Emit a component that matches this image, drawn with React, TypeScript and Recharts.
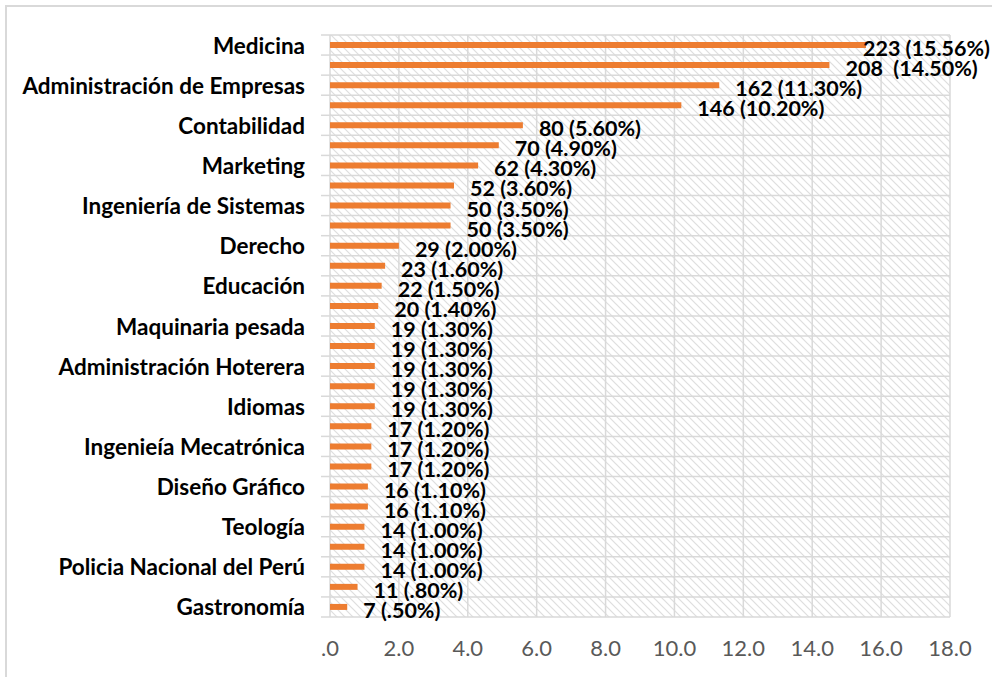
import React from 'react';
import { BarChart, Bar, XAxis, YAxis, CartesianGrid, LabelList } from 'recharts';

// porcentaje por carrera (orden del gráfico, de mayor a menor)
const porcentajes = [
  15.56, 14.5, 11.3, 10.2, 5.6, 4.9, 4.3, 3.6, 3.5, 3.5, 2.0, 1.6, 1.5, 1.4,
  1.3, 1.3, 1.3, 1.3, 1.3, 1.2, 1.2, 1.2, 1.1, 1.1, 1.0, 1.0, 1.0, 0.8, 0.5,
];

const etiquetas = [
  '223 (15.56%)', '208  (14.50%)', '162 (11.30%)', '146 (10.20%)', '80 (5.60%)',
  '70 (4.90%)', '62 (4.30%)', '52 (3.60%)', '50 (3.50%)', '50 (3.50%)',
  '29 (2.00%)', '23 (1.60%)', '22 (1.50%)', '20 (1.40%)', '19 (1.30%)',
  '19 (1.30%)', '19 (1.30%)', '19 (1.30%)', '19 (1.30%)', '17 (1.20%)',
  '17 (1.20%)', '17 (1.20%)', '16 (1.10%)', '16 (1.10%)', '14 (1.00%)',
  '14 (1.00%)', '14 (1.00%)', '11 (.80%)', '7 (.50%)',
];

// solo se muestra una de cada dos categorías en el eje
const carreras = [
  'Medicina', 'Administración de Empresas', 'Contabilidad', 'Marketing',
  'Ingeniería de Sistemas', 'Derecho', 'Educación', 'Maquinaria pesada',
  'Administración Hoterera', 'Idiomas', 'Ingenieía Mecatrónica', 'Diseño Gráfico',
  'Teología', 'Policia Nacional del Perú', 'Gastronomía',
];

const xTicks = [0, 2, 4, 6, 8, 10, 12, 14, 16, 18];

const W = 992;
const H = 677;
const margin = { top: 35, right: 42, bottom: 0, left: 0 };
const Y_AXIS_W = 330;
const X_AXIS_H = 60;
const FONT = 'Lato, "Open Sans", sans-serif';

const data = porcentajes.map((pct, i) => ({ id: i, pct }));
const band = (H - margin.top - margin.bottom - X_AXIS_H) / data.length;
const rowLines = Array.from({ length: data.length + 1 }, (_, k) => margin.top + k * band);

function YTick(props: any) {
  const { y, payload } = props;
  const i = payload.value as number;
  const top = y - band / 2;
  const x = Y_AXIS_W;
  return (
    <g>
      <line x1={x - 9} x2={x} y1={top} y2={top} stroke="#d9d9d9" strokeWidth={1.5} />
      {i === data.length - 1 && (
        <line x1={x - 9} x2={x} y1={top + band} y2={top + band} stroke="#d9d9d9" strokeWidth={1.5} />
      )}
      {i % 2 === 0 && (
        <text
          x={x - 25}
          y={y}
          textAnchor="end"
          dominantBaseline="central"
          fill="#000"
          fontFamily={FONT}
          fontWeight="bold"
          fontSize={22.5}
        >
          {carreras[i / 2]}
        </text>
      )}
    </g>
  );
}

function ValueLabel(props: any) {
  const { x, y, width, height, index } = props;
  const txt = etiquetas[index];
  const start = x + width + 16;
  const overflow = start + txt.length * 10 > 990;
  return (
    <text
      x={overflow ? 990 : start}
      y={y + height / 2 + 3}
      textAnchor={overflow ? 'end' : 'start'}
      dominantBaseline="central"
      fill="#000"
      fontFamily={FONT}
      fontWeight="bold"
      fontSize={21.5}
      style={{ whiteSpace: 'pre' }}
    >
      {txt}
    </text>
  );
}

export default function App() {
  return (
    <div style={{ position: 'fixed', left: 0, top: 0, width: W, height: H, overflow: 'hidden', background: '#fff' }}>
      <div
        style={{
          position: 'absolute',
          left: 5,
          top: 5,
          width: 1100,
          height: 800,
          border: '2px solid #d9d9d9',
        }}
      />
      <div style={{ position: 'absolute', left: 0, top: 0 }}>
        <BarChart width={W} height={H} data={data} layout="vertical" margin={margin} barSize={6}>
          <defs>
            <pattern id="hatch" width="8" height="8" patternUnits="userSpaceOnUse">
              <rect width="8" height="8" fill="#fff" />
              <path d="M0,0 L8,8 M-2,6 L2,10 M6,-2 L10,2" stroke="#dedede" strokeWidth={1.2} />
            </pattern>
          </defs>
          <CartesianGrid
            fill="url(#hatch)"
            stroke="#d9d9d9"
            strokeWidth={1.5}
            horizontalCoordinatesGenerator={() => rowLines}
          />
          <XAxis
            type="number"
            domain={[0, 18]}
            ticks={xTicks}
            tickFormatter={(v: number) => (v === 0 ? '.0' : v.toFixed(1))}
            tickLine={false}
            axisLine={false}
            tick={{ fill: '#595959', fontSize: 22, fontFamily: FONT }}
            tickMargin={17}
            height={X_AXIS_H}
          />
          <YAxis
            type="category"
            dataKey="id"
            width={Y_AXIS_W}
            interval={0}
            tickLine={false}
            axisLine={false}
            tick={<YTick />}
          />
          <Bar dataKey="pct" fill="#ED7D31" isAnimationActive={false}>
            <LabelList dataKey="pct" content={<ValueLabel />} />
          </Bar>
        </BarChart>
      </div>
    </div>
  );
}
